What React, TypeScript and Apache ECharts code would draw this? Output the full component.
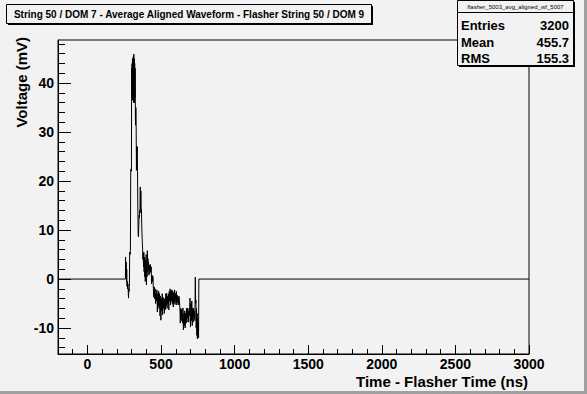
import React, { useEffect, useRef } from "react";
import * as echarts from "echarts";

// Time (ns) of each histogram sample and its content (mV)
const times = [
  -200, 258, 259, 261, 263, 265, 267, 269, 271, 273, 275, 277, 279, 281, 283, 285,
  287, 290, 292, 294, 297, 299, 300, 302, 303, 305, 306, 308, 309, 311, 312, 314,
  315, 317, 318, 320, 321, 323, 324, 326, 327, 329, 331, 333, 335, 337, 339, 341,
  343, 345, 347, 349, 351, 353, 355, 357, 359, 361, 363, 365, 367, 369, 371, 373,
  375, 377, 379, 381, 383, 385, 387, 389, 391, 393, 395, 397, 399, 401, 403, 405,
  407, 409, 411, 413, 415, 418, 421, 424, 427, 430, 433, 436, 439, 442, 445, 448,
  451, 454, 457, 460, 463, 466, 469, 472, 475, 478, 481, 484, 487, 490, 493, 496,
  499, 502, 505, 508, 511, 514, 517, 520, 523, 526, 529, 532, 535, 538, 541, 544,
  547, 550, 553, 556, 559, 562, 565, 568, 571, 574, 577, 580, 583, 586, 589, 592,
  595, 598, 601, 604, 607, 610, 613, 616, 619, 622, 625, 628, 631, 634, 637, 640,
  643, 646, 649, 652, 655, 658, 661, 664, 667, 670, 673, 676, 679, 682, 685, 688,
  691, 694, 697, 700, 703, 706, 709, 712, 715, 718, 721, 724, 727, 730, 733, 735,
  737, 739, 741, 743, 745, 747, 749, 751, 753, 755, 757, 3000,
];
const volts = [
  0, 0, 4.5, 1, 3.5, -0.5, 2, -1.5, -0.5, -2, -1, -2.5, -3.9, -2, -2.5, -1.5,
  5.5, 5, 5.8, 22.2, 22.5, 22, 43, 38, 44, 36.5, 45, 37, 44.5, 38, 45.5, 36,
  45.9, 37.5, 45, 36, 44, 37, 43, 33, 31.4, 35, 31, 22.2, 27.1, 26, 27, 19,
  12.7, 9, 8.6, 11, 13, 12.5, 14, 13.5, 18.8, 14, 18, 13.5, 14.2, 11, 9, 7.5,
  6.1, 4, 5.2, 2.5, 5.5, 1.5, 4.5, 0.5, 3.5, -0.5, 4, 1, 5, -1.2, 3, 0.5,
  5.8, 1.5, 4.2, 2, 3.5, 0.8, 2.8, 1.2, 3, 1.5, 2.5, -1, 0.8, -0.5, 0.5, -2,
  -3.7, -1.6, -4, -2, -5, -3, -4.5, -2.2, -6.7, -3, -5.5, -2.5, -6, -3, -7.5, -3.5,
  -8.4, -4, -6.5, -3, -7.3, -3.7, -6, -4.2, -7, -4, -6.3, -3, -5.5, -2.9, -6, -3.5,
  -5, -3, -6.3, -2.5, -4.5, -2, -5.3, -2.4, -4.5, -2.2, -5, -2.5, -5.7, -2.8, -4.8, -2.2,
  -5.2, -3, -4.5, -2.5, -5.3, -3.3, -4.8, -3.6, -5.3, -3.5, -4.5, -5.7, -9, -6, -8.5, -6.2,
  -7.5, -9, -5.9, -10.4, -7, -9.5, -6.5, -10, -7, -9, -6, -8.8, -5.9, -8, -6.5, -8.8,
  -6, -7.5, -3.9, -9.8, -5, -8.5, -4.5, -9.5, -6, -8.8, -5.9, -8, -6.5, -8.5, 0.4, -5,
  -4.3, -10, -6, -11.5, -7, -12.2, -8, -11, -9, -12, 0, 0,
];

const xMajorTicks = [0, 500, 1000, 1500, 2000, 2500, 3000];
const xMinorTicks = [
  -200, -100, 100, 200, 300, 400, 600, 700, 800, 900, 1100, 1200, 1300, 1400,
  1600, 1700, 1800, 1900, 2100, 2200, 2300, 2400, 2600, 2700, 2800, 2900,
];
const yMajorTicks = [-10, 0, 10, 20, 30, 40];
const yMinorTicks = [
  -14, -12, -8, -6, -4, -2, 2, 4, 6, 8, 12, 14, 16, 18, 22, 24, 26, 28, 32, 34,
  36, 38, 42, 44, 46, 48,
];

const titleText =
  "String 50 / DOM 7 - Average Aligned Waveform - Flasher String 50 / DOM 9";
const xTitle = "Time - Flasher Time (ns)";
const yTitle = "Voltage (mV)";
const statsName = "flasher_5003_avg_aligned_wf_5007";
const statsLabels = ["Entries", "Mean", "RMS"];
const statsValues = ["3200", "455.7", "155.3"];

const FONT = "'Liberation Sans', Arial, Helvetica, sans-serif";
const BG = "#f2f2f2";

export default function App() {
  const ref = useRef<HTMLDivElement>(null);
  useEffect(() => {
    if (!ref.current) return;
    const chart = echarts.init(ref.current, undefined, { renderer: "svg" });
    const black = { color: "#000", width: 1 };
    const labelStyle = {
      color: "#000",
      fontFamily: FONT,
      fontWeight: "bold" as const,
      fontSize: 14,
      formatter: (v: number) => String(v),
    };
    const rowY = [25, 42, 58];
    const graphic: any[] = [
      { type: "rect", z: 100, shape: { x: 584, y: 0, width: 3, height: 394 }, style: { fill: "#a0a0a0" } },
      { type: "rect", z: 100, shape: { x: 0, y: 391, width: 587, height: 3 }, style: { fill: "#a0a0a0" } },
      // title box
      { type: "rect", z: 100, shape: { x: 8, y: 6, width: 365, height: 19 }, style: { fill: "#000" } },
      { type: "rect", z: 101, shape: { x: 6.5, y: 4.5, width: 365, height: 19 }, style: { fill: BG, stroke: "#000", lineWidth: 1 } },
      { type: "text", z: 102, x: 189, y: 14, style: { text: titleText, fill: "#000", font: `bold 10px ${FONT}`, align: "center", verticalAlign: "middle" } },
      // stats box
      { type: "rect", z: 100, shape: { x: 459, y: 2, width: 116, height: 65 }, style: { fill: "#000" } },
      { type: "rect", z: 101, shape: { x: 457.5, y: 0.5, width: 116, height: 65 }, style: { fill: BG, stroke: "#000", lineWidth: 1 } },
      { type: "line", z: 102, shape: { x1: 457.5, y1: 12.5, x2: 573.5, y2: 12.5 }, style: { stroke: "#000", lineWidth: 1 } },
      { type: "text", z: 102, x: 515.5, y: 6.5, style: { text: statsName, fill: "#000", font: `6px ${FONT}`, align: "center", verticalAlign: "middle" } },
      ...statsLabels.map((s, i) => ({
        type: "text", z: 102, x: 461, y: rowY[i],
        style: { text: s, fill: "#000", font: `bold 13px ${FONT}`, align: "left", verticalAlign: "middle" },
      })),
      ...statsValues.map((s, i) => ({
        type: "text", z: 102, x: 569, y: rowY[i],
        style: { text: s, fill: "#000", font: `bold 13px ${FONT}`, align: "right", verticalAlign: "middle" },
      })),
      // axis titles
      { type: "text", z: 102, x: 528, y: 381, style: { text: xTitle, fill: "#000", font: `bold 15px ${FONT}`, align: "right", verticalAlign: "middle" } },
      { type: "text", z: 102, x: 21, y: 37, rotation: Math.PI / 2, style: { text: yTitle, fill: "#000", font: `bold 15px ${FONT}`, align: "right", verticalAlign: "middle" } },
    ];

    const option: any = {
      animation: false,
      backgroundColor: BG,
      grid: {
        left: 58, top: 40, right: 58, bottom: 40,
        show: true, borderColor: "#000", borderWidth: 1, backgroundColor: "transparent",
      },
      xAxis: [
        {
          type: "value", min: -200, max: 3000, position: "bottom",
          axisLine: { show: true, onZero: false, lineStyle: black },
          axisTick: { show: true, inside: true, length: 9, customValues: xMajorTicks, lineStyle: black },
          axisLabel: { show: true, customValues: xMajorTicks, margin: 3, ...labelStyle },
          splitLine: { show: false },
        },
        {
          type: "value", min: -200, max: 3000, position: "bottom",
          axisLine: { show: false, onZero: false },
          axisTick: { show: true, inside: true, length: 5, customValues: xMinorTicks, lineStyle: black },
          axisLabel: { show: false },
          splitLine: { show: false },
        },
      ],
      yAxis: [
        {
          type: "value", min: -15.3, max: 48.8, position: "left",
          axisLine: { show: true, onZero: false, lineStyle: black },
          axisTick: { show: true, inside: true, length: 13, customValues: yMajorTicks, lineStyle: black },
          axisLabel: { show: true, customValues: yMajorTicks, margin: 4, ...labelStyle },
          splitLine: { show: false },
        },
        {
          type: "value", min: -15.3, max: 48.8, position: "left",
          axisLine: { show: false, onZero: false },
          axisTick: { show: true, inside: true, length: 7, customValues: yMinorTicks, lineStyle: black },
          axisLabel: { show: false },
          splitLine: { show: false },
        },
      ],
      series: [
        {
          type: "line",
          xAxisIndex: 0,
          yAxisIndex: 0,
          data: times.map((t, i) => [t, volts[i]]),
          step: "end",
          symbol: "none",
          showSymbol: false,
          lineStyle: { color: "#000", width: 1 },
          clip: true,
        },
      ],
      graphic,
    };
    chart.setOption(option);
    return () => chart.dispose();
  }, []);
  return (
    <div
      ref={ref}
      style={{ position: "fixed", left: 0, top: 0, width: 587, height: 394 }}
    />
  );
}
